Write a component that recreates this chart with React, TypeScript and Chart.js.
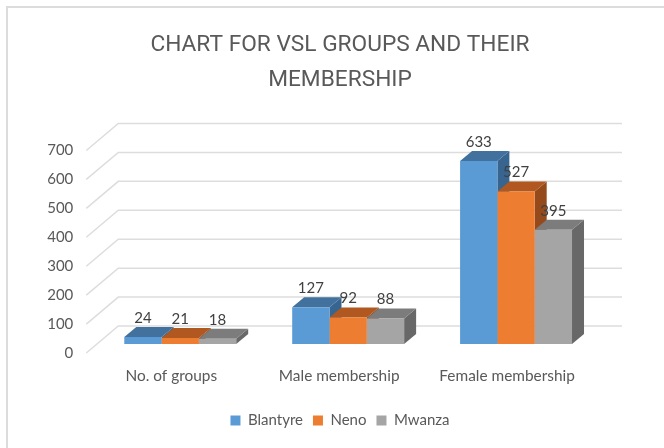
import React, { useEffect, useRef } from "react";
import { Chart, registerables } from "chart.js";

Chart.register(...registerables);

const categories = ["No. of groups", "Male membership", "Female membership"];
const blantyre = [24, 127, 633];
const neno = [21, 92, 527];
const mwanza = [18, 88, 395];
const tickLabels = [0, 100, 200, 300, 400, 500, 600, 700];
const titleLines = ["CHART FOR VSL GROUPS AND THEIR", "MEMBERSHIP"];

const FONT = "Lato, Carlito, 'Open Sans', sans-serif";
const TITLE_FONT = "Roboto, Lato, sans-serif";
const TEXT = "#595959";
const depthX = 12;
const depthY = 10;

const shades = [
  { top: "#41719C", side: "#386590" },
  { top: "#B0581F", side: "#944A1A" },
  { top: "#7C7C7C", side: "#686868" },
];

const threeD = {
  id: "threeD",
  beforeDatasetsDraw(chart: any) {
    const { ctx, scales, chartArea } = chart;
    const yf = scales.yFront;
    ctx.save();
    ctx.strokeStyle = "#DDDDDD";
    ctx.lineWidth = 1.5;
    for (const t of tickLabels) {
      const y = yf.getPixelForValue(t);
      ctx.beginPath();
      ctx.moveTo(chartArea.left - 10, y);
      ctx.lineTo(chartArea.left + 22, y - 27);
      ctx.lineTo(chartArea.right + 22, y - 27);
      ctx.stroke();
    }
    chart.data.datasets.forEach((_: any, i: number) => {
      chart.getDatasetMeta(i).data.forEach((bar: any) => {
        const p = bar.getProps(["x", "y", "base", "width"], true);
        const l = p.x - p.width / 2;
        const r = p.x + p.width / 2;
        ctx.fillStyle = shades[i].side;
        ctx.beginPath();
        ctx.moveTo(r, p.y);
        ctx.lineTo(r + depthX, p.y - depthY);
        ctx.lineTo(r + depthX, p.base - depthY);
        ctx.lineTo(r, p.base);
        ctx.closePath();
        ctx.fill();
        ctx.fillStyle = shades[i].top;
        ctx.beginPath();
        ctx.moveTo(l, p.y);
        ctx.lineTo(l + depthX, p.y - depthY);
        ctx.lineTo(r + depthX, p.y - depthY);
        ctx.lineTo(r, p.y);
        ctx.closePath();
        ctx.fill();
      });
    });
    ctx.restore();
  },
  afterDatasetsDraw(chart: any) {
    const { ctx } = chart;
    ctx.save();
    ctx.font = `15px ${FONT}`;
    ctx.fillStyle = "#404040";
    ctx.textAlign = "center";
    ctx.textBaseline = "middle";
    chart.data.datasets.forEach((ds: any, i: number) => {
      chart.getDatasetMeta(i).data.forEach((bar: any, j: number) => {
        const p = bar.getProps(["x", "y"], true);
        ctx.fillText(String(ds.data[j]), p.x, p.y - 19);
      });
    });
    ctx.restore();
  },
};

export default function App() {
  const ref = useRef<HTMLCanvasElement>(null);
  useEffect(() => {
    const chart = new Chart(ref.current as HTMLCanvasElement, {
      type: "bar",
      data: {
        labels: categories,
        datasets: [
          { label: "Blantyre", data: blantyre, backgroundColor: "#5B9BD5", yAxisID: "y" },
          { label: "Neno", data: neno, backgroundColor: "#ED7D31", yAxisID: "y" },
          { label: "Mwanza", data: mwanza, backgroundColor: "#A5A5A5", yAxisID: "y" },
        ],
      },
      options: {
        responsive: false,
        animation: false,
        layout: { padding: { top: 0, right: 0, bottom: 10, left: 16 } },
        datasets: { bar: { categoryPercentage: 2 / 3, barPercentage: 1 } },
        plugins: {
          tooltip: { enabled: false },
          title: {
            display: true,
            text: titleLines,
            color: TEXT,
            font: { family: TITLE_FONT, size: 22.7, weight: "normal", lineHeight: 35 / 22.7 },
            padding: { top: 28, bottom: 43.5 },
          },
          legend: {
            position: "bottom",
            labels: {
              color: TEXT,
              font: { family: FONT, size: 15 },
              boxWidth: 10,
              boxHeight: 10,
              padding: 10,
            },
          },
        },
        scales: {
          x: {
            grid: { display: false },
            border: { display: false },
            ticks: {
              color: TEXT,
              font: { family: FONT, size: 15.4 },
              padding: 6,
              maxRotation: 0,
              labelOffset: -9,
            },
            afterFit(s: any) { s.height = 50; },
          },
          y: {
            position: "right",
            min: -31,
            max: 700,
            grid: { display: false },
            border: { display: false },
            ticks: { display: false },
            afterFit(s: any) { s.width = 64; },
          },
          yFront: {
            position: "left",
            min: 0,
            max: 731,
            grid: { display: false },
            border: { display: false },
            afterBuildTicks(s: any) { s.ticks = tickLabels.map((value) => ({ value })); },
            ticks: { color: TEXT, font: { family: FONT, size: 15 }, padding: 15 },
            afterFit(s: any) { s.width = 80.3; },
          },
        },
      } as any,
      plugins: [threeD],
    });
    return () => chart.destroy();
  }, []);
  return (
    <div style={{ position: "absolute", left: 0, top: 0, width: 664, height: 448, background: "#fff", overflow: "hidden" }}>
      <div style={{ position: "absolute", left: 6, top: 6, width: 700, height: 500, borderLeft: "2px solid #DCDCDC", borderTop: "2px solid #DCDCDC" }} />
      <canvas ref={ref} width={664} height={448} style={{ display: "block", position: "absolute", left: 0, top: 0 }} />
    </div>
  );
}
